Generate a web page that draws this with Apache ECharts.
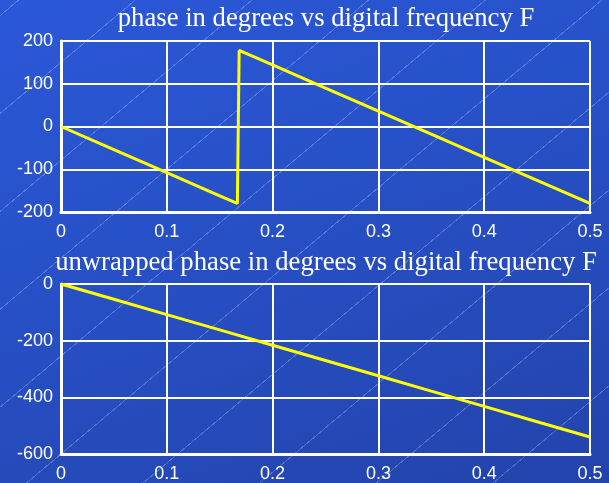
<!DOCTYPE html>
<html>
<head>
<meta charset="utf-8">
<script src="https://cdn.jsdelivr.net/npm/echarts@6/dist/echarts.min.js"></script>
<style>
  html, body { margin: 0; padding: 0; }
  #wrap {
    width: 609px; height: 483px; position: relative; overflow: hidden;
    background: linear-gradient(160deg, #2b58d8 0%, #2750c6 45%, #2343ab 100%);
  }
  #tex {
    position: absolute; inset: 0;
    background: repeating-linear-gradient(-40deg,
      rgba(255,255,255,0) 0px, rgba(255,255,255,0) 74px,
      rgba(255,255,255,0.22) 74px, rgba(255,255,255,0.22) 75px);
  }
  #chart { position: absolute; inset: 0; width: 609px; height: 483px; }
</style>
</head>
<body>
<div id="wrap"><div id="tex"></div><div id="chart"></div></div>
<script>
// digital frequency samples (cycles/sample)
const freq = [0, 0.05, 0.1, 0.15, 0.1667, 0.1684, 0.2, 0.25, 0.3, 0.35, 0.4, 0.45, 0.5];
// wrapped phase in degrees
const phaseWrapped = [0, -54, -108, -162, -180, 178, 144, 90, 36, -18, -72, -126, -180];
// frequency samples for the unwrapped curve
const freqU = [0, 0.05, 0.1, 0.15, 0.2, 0.25, 0.3, 0.35, 0.4, 0.45, 0.5];
// unwrapped phase in degrees
const phaseUnwrapped = [0, -54, -108, -162, -216, -270, -324, -378, -432, -486, -540];

const xTicks = [0, 0.1, 0.2, 0.3, 0.4, 0.5];
const titles = ['phase in degrees vs digital frequency F',
                'unwrapped phase in degrees vs digital frequency F'];

const white = '#ffffff';
const sans = 'Liberation Sans, Arial, sans-serif';
const serif = 'Liberation Serif, Times New Roman, serif';

function xAxis(gi) {
  return {
    gridIndex: gi, type: 'value', min: 0, max: 0.5, interval: 0.1,
    axisLine: { show: true, onZero: false, lineStyle: { color: white, width: 3 } },
    axisTick: { show: false },
    splitLine: { show: true, lineStyle: { color: white, width: 2 } },
    axisLabel: { color: white, fontFamily: sans, fontSize: 18, margin: 11,
                 formatter: v => String(+v.toFixed(1)) }
  };
}
function yAxis(gi, min, max, step) {
  return {
    gridIndex: gi, type: 'value', min: min, max: max, interval: step,
    axisLine: { show: true, onZero: false, lineStyle: { color: white, width: 3 } },
    axisTick: { show: false },
    splitLine: { show: true, lineStyle: { color: white, width: 2 } },
    axisLabel: { color: white, fontFamily: sans, fontSize: 18, margin: 8 }
  };
}

const chart = echarts.init(document.getElementById('chart'), null, { renderer: 'canvas' });
chart.setOption({
  backgroundColor: 'transparent',
  animation: false,
  title: [
    { text: titles[0], left: 321, textAlign: 'center', top: 0,
      textStyle: { color: white, fontFamily: serif, fontWeight: 'normal', fontSize: 26.7 } },
    { text: titles[1], left: 321, textAlign: 'center', top: 244,
      textStyle: { color: white, fontFamily: serif, fontWeight: 'normal', fontSize: 26.7 } }
  ],
  grid: [
    { left: 61, right: 19, top: 41, height: 171 },
    { left: 61, right: 19, top: 284, height: 171 }
  ],
  xAxis: [xAxis(0), xAxis(1)],
  yAxis: [yAxis(0, -200, 200, 100), yAxis(1, -600, 0, 200)],
  series: [
    { type: 'line', xAxisIndex: 0, yAxisIndex: 0, showSymbol: false,
      lineStyle: { color: '#ffff00', width: 3 },
      data: freq.map((f, i) => [f, phaseWrapped[i]]) },
    { type: 'line', xAxisIndex: 1, yAxisIndex: 1, showSymbol: false,
      lineStyle: { color: '#ffff00', width: 3 },
      data: freqU.map((f, i) => [f, phaseUnwrapped[i]]) }
  ]
});
</script>
</body>
</html>
